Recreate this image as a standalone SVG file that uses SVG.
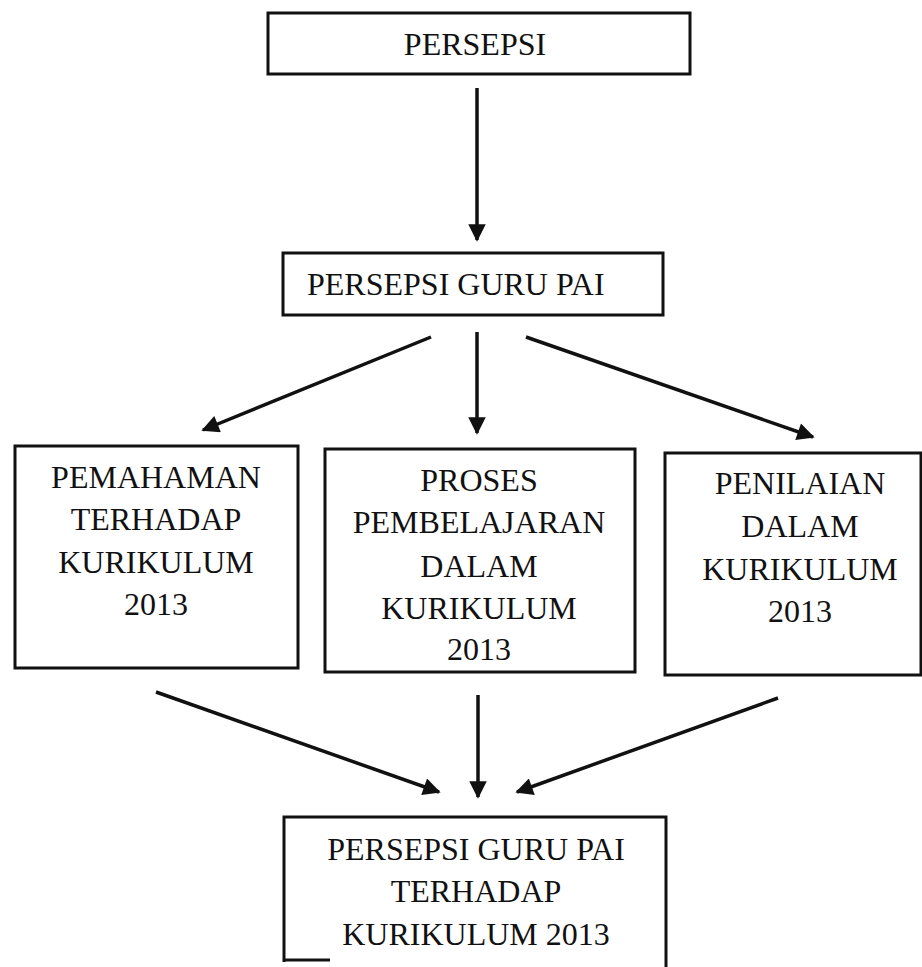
<svg xmlns="http://www.w3.org/2000/svg" width="922" height="967" viewBox="0 0 922 967">
<style>
.box{fill:#fff;stroke:#111;stroke-width:3}
.t{font-family:"Liberation Serif","Times New Roman","DejaVu Serif",serif;font-size:32px;fill:#111}
.c{text-anchor:middle}
.conn line{stroke:#111;stroke-width:3.5}
</style>
<defs>
<marker id="ah" viewBox="0 0 10 10" refX="9" refY="5" markerWidth="5.5" markerHeight="5" markerUnits="strokeWidth" orient="auto">
<path d="M0,0 L10,5 L0,10 Z" fill="#111"/>
</marker>
</defs>
<rect width="922" height="967" fill="#fff"/>
<g id="persepsi">
<rect class="box" x="268" y="13" width="422" height="61"/>
<text class="t c" x="475" y="55">PERSEPSI</text>
</g>
<g id="persepsi-guru-pai">
<rect class="box" x="283" y="253" width="380" height="62"/>
<text class="t" x="307" y="295">PERSEPSI GURU PAI</text>
</g>
<g id="pemahaman">
<rect class="box" x="15" y="446" width="283" height="222"/>
<text class="t c" x="156" y="488">PEMAHAMAN</text>
<text class="t c" x="156" y="530">TERHADAP</text>
<text class="t c" x="156" y="573">KURIKULUM</text>
<text class="t c" x="156" y="615">2013</text>
</g>
<g id="proses">
<rect class="box" x="325" y="449" width="310" height="223"/>
<text class="t c" x="479" y="491">PROSES</text>
<text class="t c" x="479" y="533">PEMBELAJARAN</text>
<text class="t c" x="479" y="577">DALAM</text>
<text class="t c" x="479" y="619">KURIKULUM</text>
<text class="t c" x="479" y="660">2013</text>
</g>
<g id="penilaian">
<rect class="box" x="665" y="453" width="256" height="222"/>
<text class="t c" x="800" y="494">PENILAIAN</text>
<text class="t c" x="800" y="537">DALAM</text>
<text class="t c" x="800" y="580">KURIKULUM</text>
<text class="t c" x="800" y="622">2013</text>
</g>
<g id="hasil">
<path d="M284,962 L284,817 L666,817 L666,967" fill="#fff" stroke="#111" stroke-width="3"/>
<line x1="284" y1="960" x2="330" y2="960" stroke="#111" stroke-width="3"/>
<text class="t c" x="476" y="860">PERSEPSI GURU PAI</text>
<text class="t c" x="476" y="902">TERHADAP</text>
<text class="t c" x="476" y="945">KURIKULUM 2013</text>
</g>
<g id="connectors" class="conn">
<line x1="477" y1="88" x2="477" y2="240" marker-end="url(#ah)"/>
<line x1="431" y1="337" x2="203" y2="430" marker-end="url(#ah)"/>
<line x1="477" y1="332" x2="477" y2="433" marker-end="url(#ah)"/>
<line x1="526" y1="337" x2="813" y2="437" marker-end="url(#ah)"/>
<line x1="156" y1="692" x2="439" y2="792" marker-end="url(#ah)"/>
<line x1="478" y1="695" x2="478" y2="797" marker-end="url(#ah)"/>
<line x1="778" y1="698" x2="517" y2="792" marker-end="url(#ah)"/>
</g>
</svg>
